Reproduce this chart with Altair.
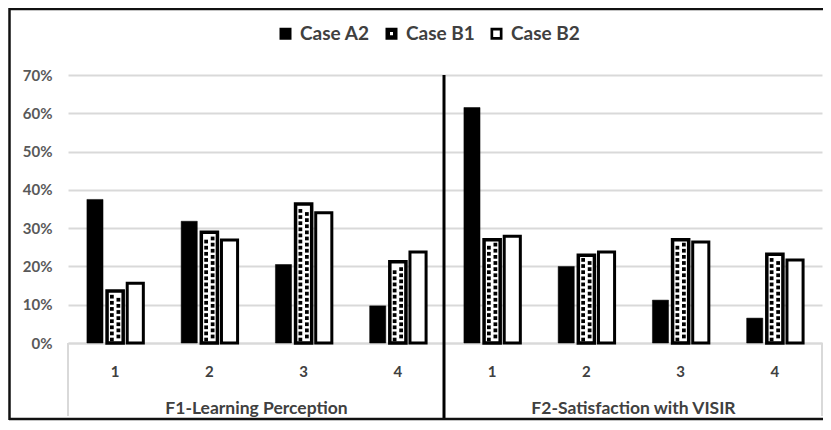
import altair as alt
import pandas as pd

factors = ["F1", "F2"]
groups = ["F1-Learning Perception", "F2-Satisfaction with VISIR"]
items = ["1", "2", "3", "4"]
cases = ["Case A2", "Case B1", "Case B2"]
a2 = [0.375, 0.318, 0.205, 0.097, 0.615, 0.200, 0.112, 0.065]
b1 = [0.136, 0.289, 0.363, 0.212, 0.270, 0.229, 0.270, 0.232]
b2 = [0.156, 0.269, 0.340, 0.238, 0.279, 0.238, 0.264, 0.217]
y_ticks = [0, 0.1, 0.2, 0.3, 0.4, 0.5, 0.6, 0.7]

keys = [f"{f}-{i}" for f in factors for i in items]
rows = []
for k, key in enumerate(keys):
    for c, vals in zip(cases, [a2, b1, b2]):
        rows.append({"key": key, "case": c, "value": vals[k]})
df = pd.DataFrame(rows)
gdf = pd.DataFrame({"key": [keys[1], keys[5]], "label": groups})
sdf = pd.DataFrame({"key": [keys[3]]})
slots = [f"s{i}" for i in range(10)]  # fine sub-slots for the B1 fill pattern

FONT = "Lato"
TXT = "#404040"
GRID = "#d9d9d9"
W, H = 754, 268
P_IN, P_OUT = 0.38, 0.19
STEP = W / (len(keys) - P_IN + 2 * P_OUT)

x_scale = alt.Scale(domain=keys, paddingInner=P_IN, paddingOuter=P_OUT)
x_axis = alt.Axis(title=None, labelExpr="slice(datum.label, -1)", labelAngle=0,
                  ticks=False, tickSize=0, domainColor=GRID, domainWidth=2,
                  labelFont=FONT, labelFontWeight="bold", labelFontSize=15,
                  labelColor=TXT, labelPadding=21)
y_scale = alt.Scale(domain=[0, 0.7], nice=False)
y_axis = alt.Axis(title=None, format=".0%", values=y_ticks, domain=False, ticks=False,
                  gridColor=GRID, gridWidth=2, labelFont=FONT, labelFontWeight="bold",
                  labelFontSize=15, labelColor="#595959", labelPadding=16)
xo_scale = alt.Scale(domain=cases, paddingInner=0.2, paddingOuter=0.05)

x_enc = alt.X("key:N", scale=x_scale, axis=x_axis)
xo_enc = alt.XOffset("case:N", scale=xo_scale)
y_enc = alt.Y("value:Q", scale=y_scale, axis=y_axis)

base = alt.Chart(df)

a2_bars = base.transform_filter("datum.case == 'Case A2'").mark_bar(
    fill="black", stroke="black", strokeWidth=0.5).encode(x=x_enc, xOffset=xo_enc, y=y_enc)
b1_bars = base.transform_filter("datum.case == 'Case B1'").mark_bar(
    fill="white", stroke="black", strokeWidth=3.5).encode(x=x_enc, xOffset=xo_enc, y=y_enc)
b2_bars = base.transform_filter("datum.case == 'Case B2'").mark_bar(
    fill="white", stroke="black", strokeWidth=3).encode(x=x_enc, xOffset=xo_enc, y=y_enc)
bars = alt.layer(a2_bars, b1_bars, b2_bars)

def pattern(start, slot):
    return base.transform_filter("datum.case == 'Case B1'").transform_calculate(
        seq=f"sequence({start}, datum.value - 0.011, 0.016)", slot=f"'{slot}'"
    ).transform_flatten(["seq"]).mark_square(
        size=14, color="black", opacity=1
    ).encode(x=x_enc,
             xOffset=alt.XOffset("slot:N", scale=alt.Scale(domain=slots, paddingInner=0, paddingOuter=0)),
             y=alt.Y("seq:Q", scale=y_scale, axis=y_axis))

pats = alt.layer(pattern(0.009, "s4"), pattern(0.017, "s5"))

sq_a2 = "M-1,-1H1V1H-1Z"
sq_b1 = "M-1,-1H1V1H-1Z M-0.25,-0.3V0.25H0.25V-0.3Z"
sq_b2 = "M-1,-1H1V1H-1Z M-0.55,-0.55V0.55H0.55V-0.55Z"
leg = alt.Legend(title=None, orient="none", legendX=208, legendY=-51, direction="horizontal",
                 labelFont=FONT, labelFontWeight="bold", labelFontSize=19, labelColor=TXT,
                 symbolSize=144, columnPadding=12, labelOffset=5, padding=0)
legend_layer = base.transform_filter("false").mark_point(
    filled=True, opacity=1, color="black", size=144
).encode(
    x=x_enc, y=y_enc,
    shape=alt.Shape("case:N", scale=alt.Scale(domain=cases, range=[sq_a2, sq_b1, sq_b2]), legend=leg),
)

group_text = alt.Chart(gdf).mark_text(
    font=FONT, fontWeight="bold", fontSize=17.5, color=TXT, baseline="middle",
    dx=P_IN / 2 * STEP
).encode(x=alt.X("key:N", bandPosition=1, scale=x_scale, axis=x_axis),
         y=alt.value(334), text="label:N")

sep = alt.Chart(sdf).mark_rule(color="black", strokeWidth=3).encode(
    x=alt.value(W / 2 - 1), y=alt.value(0), y2=alt.value(345))

gl = alt.Chart(sdf).mark_rule(color=GRID, strokeWidth=2).encode(
    x=alt.value(0), y=alt.value(H), y2=alt.value(341))
gr = alt.Chart(sdf).mark_rule(color=GRID, strokeWidth=2).encode(
    x=alt.value(W), y=alt.value(H), y2=alt.value(341))

ftop = alt.Chart(sdf).mark_rule(color="#111", strokeWidth=2.5).encode(
    x=alt.value(-59), x2=alt.value(W + 2), y=alt.value(-66))
fleft = alt.Chart(sdf).mark_rule(color="#111", strokeWidth=2.5).encode(
    x=alt.value(-58.5), y=alt.value(-67), y2=alt.value(345))
fbot = alt.Chart(sdf).mark_rule(color="#111", strokeWidth=2.5).encode(
    x=alt.value(-59), x2=alt.value(W + 2), y=alt.value(344))

chart = alt.layer(
    bars, pats, legend_layer,
    group_text, sep, gl, gr, ftop, fleft, fbot
).resolve_scale(xOffset="independent").properties(
    width=W, height=H,
    autosize=alt.AutoSizeParams(type="none"),
    padding={"left": 60, "top": 67, "right": 1, "bottom": 79},
    background="white",
).configure_view(stroke=None)

chart.save("out.html", embed_options={"renderer": "svg", "actions": False})
